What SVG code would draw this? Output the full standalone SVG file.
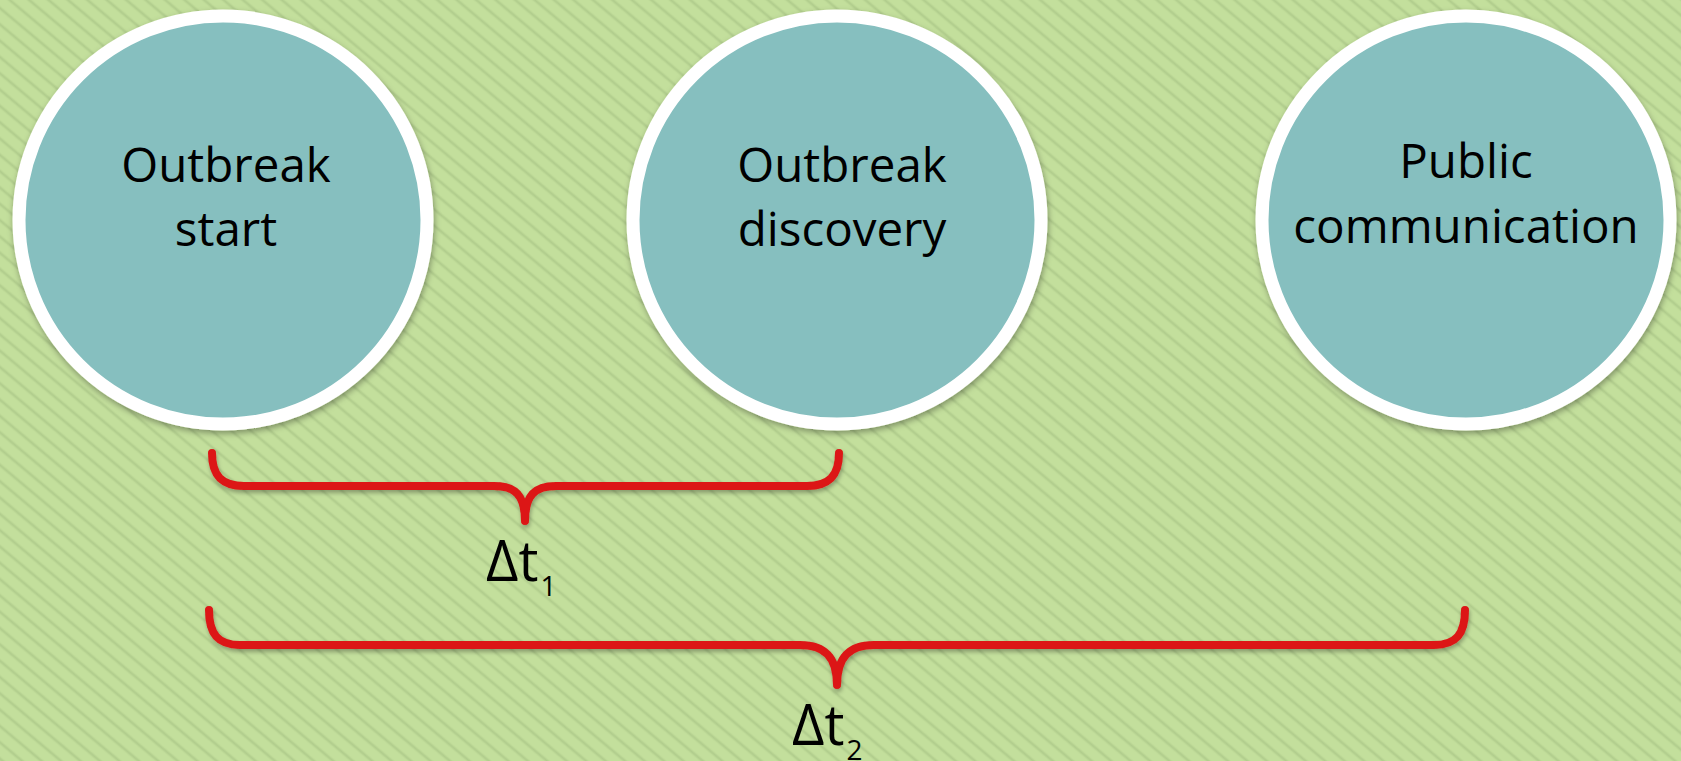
<svg xmlns="http://www.w3.org/2000/svg" width="1681" height="761" viewBox="0 0 1681 761">
  <defs>
    <pattern id="stripes" patternUnits="userSpaceOnUse" width="20" height="12.5" patternTransform="rotate(40)">
      <rect x="0" y="0" width="20" height="12.5" fill="#c3df9c"/>
      <rect x="0" y="4.5" width="20" height="3.5" fill="#bad694"/>
      <rect x="0" y="5.5" width="20" height="1.5" fill="#b1cd8d"/>
    </pattern>
    <filter id="shadow" x="-10%" y="-10%" width="120%" height="125%">
      <feDropShadow dx="1" dy="3" stdDeviation="3" flood-color="#000" flood-opacity="0.35"/>
    </filter>
    <filter id="bshadow" x="-5%" y="-20%" width="110%" height="160%">
      <feDropShadow dx="1" dy="3" stdDeviation="2" flood-color="#000" flood-opacity="0.3"/>
    </filter>
  </defs>
  <style>
    .node circle { fill: #86bfbf; stroke: #ffffff; stroke-width: 13; filter: url(#shadow); }
    .label { font-family: "Open Sans", "Noto Sans", "Liberation Sans", sans-serif; font-size: 47.5px; fill: #000; text-anchor: middle; }
    .brace { fill: none; stroke: #dc1515; stroke-width: 8; stroke-linecap: round; stroke-linejoin: round; filter: url(#bshadow); }
    .delta { font-family: "Open Sans", "Noto Sans", "Liberation Sans", sans-serif; font-size: 56px; fill: #000; }
    .sub { font-size: 28px; }
  </style>
  <rect x="0" y="0" width="1681" height="761" fill="url(#stripes)"/>

  <g id="node-outbreak-start" class="node">
    <circle cx="223" cy="220" r="204"/>
    <text class="label" x="226" y="182">Outbreak</text>
    <text class="label" x="226" y="246">start</text>
  </g>
  <g id="node-outbreak-discovery" class="node">
    <circle cx="837" cy="220" r="204"/>
    <text class="label" x="842" y="182">Outbreak</text>
    <text class="label" x="842" y="246">discovery</text>
  </g>
  <g id="node-public-communication" class="node">
    <circle cx="1466" cy="220" r="204"/>
    <text class="label" x="1466" y="178">Public</text>
    <text class="label" x="1466" y="243">communication</text>
  </g>

  <g id="connectors">
    <path class="brace" d="M212,453 C212,476 222,486 244,486 L494,486 C515,486 525,495 525,521 C525,495 535,486 556,486 L807,486 C829,486 839,476 839,453"/>
    <path class="brace" d="M209,610 C209,634 218,645 240,645 L800,645 C824,645 837,656 837,685 C837,656 850,645 874,645 L1434,645 C1456,645 1465,634 1465,610"/>
    <text class="delta" x="486" y="581">Δt<tspan class="sub" dx="2" dy="15">1</tspan></text>
    <text class="delta" x="792" y="745">Δt<tspan class="sub" dx="2" dy="15">2</tspan></text>
  </g>
</svg>
